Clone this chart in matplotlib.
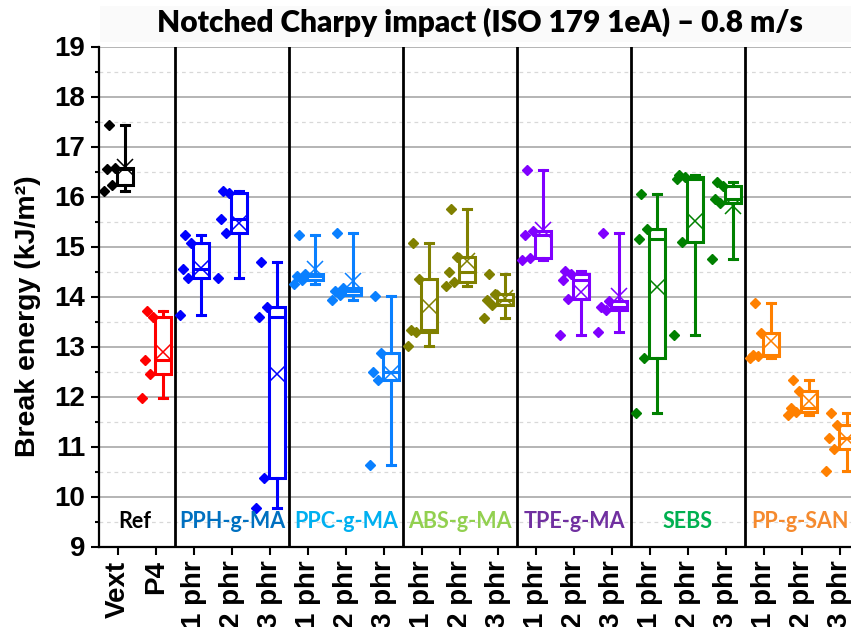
import matplotlib
matplotlib.use("Agg")
import matplotlib.pyplot as plt
from matplotlib.patches import Rectangle
import numpy as np

# valores (kJ/m2), 5 corpos de prova por amostra
vext = [17.42, 16.58, 16.56, 16.23, 16.12]
p4 = [13.71, 13.60, 12.73, 12.46, 11.98]
pph_1 = [15.23, 15.08, 14.55, 14.38, 13.64]
pph_2 = [16.10, 16.08, 15.55, 15.28, 14.38]
pph_3 = [14.70, 13.80, 13.60, 10.38, 9.78]
ppc_1 = [15.23, 14.46, 14.42, 14.34, 14.26]
ppc_2 = [15.28, 14.18, 14.12, 14.03, 13.93]
ppc_3 = [14.01, 12.88, 12.50, 12.34, 10.64]
abs_1 = [15.07, 14.35, 13.33, 13.30, 13.01]
abs_2 = [15.75, 14.80, 14.50, 14.30, 14.21]
abs_3 = [14.45, 14.05, 13.93, 13.83, 13.57]
tpe_1 = [16.54, 15.32, 15.24, 14.78, 14.74]
tpe_2 = [14.51, 14.45, 14.33, 13.96, 13.23]
tpe_3 = [15.28, 13.92, 13.80, 13.74, 13.30]
sebs_1 = [16.05, 15.35, 15.15, 12.77, 11.68]
sebs_2 = [16.43, 16.40, 16.35, 15.10, 13.23]
sebs_3 = [16.30, 16.22, 15.95, 15.87, 14.75]
san_1 = [13.87, 13.27, 12.84, 12.82, 12.78]
san_2 = [12.34, 12.12, 11.78, 11.70, 11.63]
san_3 = [11.68, 11.43, 11.18, 10.95, 10.52]

amostras = [vext, p4, pph_1, pph_2, pph_3, ppc_1, ppc_2, ppc_3,
            abs_1, abs_2, abs_3, tpe_1, tpe_2, tpe_3,
            sebs_1, sebs_2, sebs_3, san_1, san_2, san_3]

rotulos = ['Vext', 'P4'] + ['1 phr', '2 phr', '3 phr'] * 6

cores = ['black', '#FF0000'] + ['#0000FF'] * 3 + ['#0A80FF'] * 3 + \
        ['#808000'] * 3 + ['#8000FF'] * 3 + ['#008000'] * 3 + ['#FF8000'] * 3

grupos = ['Ref', 'PPH-g-MA', 'PPC-g-MA', 'ABS-g-MA', 'TPE-g-MA', 'SEBS', 'PP-g-SAN']
cores_grupos = ['black', '#0070C0', '#00B0F0', '#92D050', '#7030A0', '#00B050', '#F58A2E']
centros_grupos = [0.45, 3, 6, 9, 12, 15, 17.95]
separadores = [1.5, 4.5, 7.5, 10.5, 13.5, 16.5]

# deslocamentos so de estilo (caixa a direita do tick, pontos a esquerda)
desloc_caixa = 0.19
jitter = [-0.24, -0.08, -0.3, -0.15, -0.36]

fig = plt.figure(figsize=(8.51, 6.27), dpi=100)
ax = fig.add_axes([99 / 851, 80.5 / 627, 1 - 99 / 851, 500 / 627])

# faixa cinza bem clara atras do titulo
fig.patches.append(Rectangle((100 / 851, 1 - 42 / 627), 751 / 851, 36 / 627,
                             transform=fig.transFigure, facecolor='#fafafa',
                             edgecolor='none', zorder=0))

for i, dados in enumerate(amostras):
    c = cores[i]
    pos = i + desloc_caixa
    ax.boxplot([dados], positions=[pos], widths=0.42, whis=(0, 100),
               showmeans=True, showfliers=False, patch_artist=True,
               capwidths=0.2, manage_ticks=False,
               boxprops=dict(facecolor='white', edgecolor=c, linewidth=2.2),
               medianprops=dict(color=c, linewidth=2.2),
               whiskerprops=dict(color=c, linewidth=2.2),
               capprops=dict(color=c, linewidth=2.2),
               meanprops=dict(marker='x', markeredgecolor=c, markersize=11,
                              markeredgewidth=1.1),
               zorder=3)
    xs = [i + j for j in jitter[:len(dados)]]
    ax.plot(xs, dados, 'D', color=c, markersize=5, linestyle='none', zorder=4)

for s in separadores:
    ax.axvline(s, color='black', linewidth=2, zorder=2)

for nome, cor, xc in zip(grupos, cores_grupos, centros_grupos):
    ax.text(xc, 9.5, nome, color=cor, fontsize=15.5, fontweight='bold',
            family='Lato', ha='center', va='center', zorder=5)

ax.set_xlim(-0.5, 19.29)
ax.set_ylim(9, 19)
ax.set_xticks(range(len(rotulos)))
ax.set_xticklabels(rotulos, rotation=90, fontsize=20, fontweight='bold',
                   family='Liberation Sans', va='top', ha='center')
ax.set_yticks(np.arange(9, 20, 1))
ax.set_yticks(np.arange(9.5, 19, 1), minor=True)
ax.set_yticklabels([str(v) for v in range(9, 20)], fontsize=20,
                   fontweight='bold', family='Liberation Sans')

ax.tick_params(axis='both', which='major', direction='out', length=6, width=1.5,
               color='black', pad=4)
ax.tick_params(axis='y', which='minor', direction='out', length=3, width=1.5)

# grade: inteiros solidos, meios tracejados
ax.grid(axis='y', which='major', color='#A8A8A8', linewidth=1.2, zorder=0)
ax.grid(axis='y', which='minor', color='#D8D8D8', linewidth=0.9,
        linestyle=(0, (3, 3)), zorder=0)
ax.set_axisbelow(True)

for lado in ['top', 'right']:
    ax.spines[lado].set_visible(False)
ax.spines['left'].set_linewidth(1.6)
ax.spines['bottom'].set_linewidth(1.6)

ax.set_ylabel('Break energy (kJ/m²)', fontsize=20.5, fontweight='bold',
              family='Liberation Sans')
ax.yaxis.label.set_va('center')
ax.yaxis.set_label_coords(-0.095, 0.46)

fig.text(0.564, 0.965, 'Notched Charpy impact (ISO 179 1eA) – 0.8 m/s',
         fontsize=21.5, fontweight='heavy', family='Lato', ha='center', va='center')

fig.savefig('out.png', dpi=100)
